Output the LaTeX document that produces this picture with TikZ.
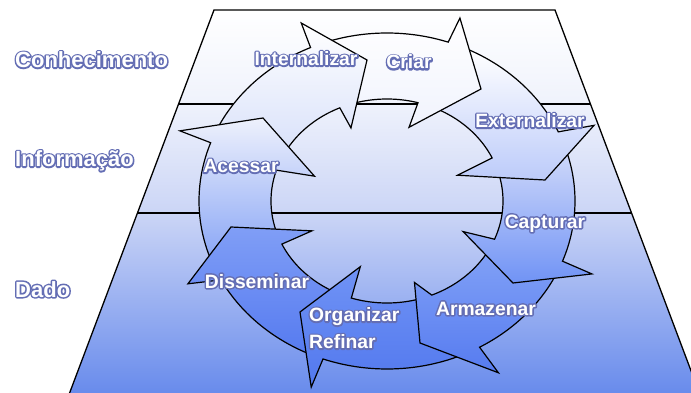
\documentclass[tikz,border=0pt]{standalone}
\usepackage{fontspec}
\setmainfont{Liberation Sans}
\usetikzlibrary{calc}
\definecolor{traphi}{RGB}{240,243,252}
\definecolor{trapmid}{RGB}{203,213,246}
\definecolor{trapbot}{RGB}{104,139,236}
\definecolor{glowc}{RGB}{100,110,180}
\definecolor{Ibot}{RGB}{218,226,250}
\definecolor{Cbot}{RGB}{240,243,253}
\definecolor{Ebot}{RGB}{188,203,250}
\definecolor{Ptop}{RGB}{205,215,250}
\definecolor{Pbot}{RGB}{112,147,245}
\definecolor{Atop}{RGB}{128,160,246}
\definecolor{Abot}{RGB}{86,123,240}
\definecolor{Otop}{RGB}{112,147,245}
\definecolor{Obot}{RGB}{82,120,238}
\definecolor{Dtop}{RGB}{128,158,246}
\definecolor{Dbot}{RGB}{86,123,240}
\definecolor{Stop}{RGB}{238,241,252}
\definecolor{Sbot}{RGB}{140,168,246}
\pgfdeclareverticalshading{trapsh}{100bp}{color(0bp)=(trapbot); color(25bp)=(trapbot); color(48.5bp)=(trapmid); color(63.3bp)=(traphi); color(75bp)=(white); color(100bp)=(white)}
\def\ecx{387}\def\ecy{201}\def\erxo{188}\def\eryo{168}\def\erxi{116}\def\eryi{102}
\newcommand\glowtext[1]{%
  \makebox[0pt][l]{\color{glowc}\special{pdf:literal direct 1 Tr 3.1 w 1 j 1 J}#1\special{pdf:literal direct 0 Tr}}%
  \color{white}#1}
\newcommand\ringfill[8]{%
  \shade[top color=#7,bottom color=#8] (#1to)
    -- plot[domain=#2:#3,samples=30] ({\ecx+\erxo*cos(\x)},{\ecy+\eryo*sin(\x)})
    -- (#1bo) -- (#1t) -- (#1bi)
    -- plot[domain=#4:#5,samples=30] ({\ecx+\erxi*cos(\x)},{\ecy+\eryi*sin(\x)})
    -- (#6t) -- cycle;}
\newcommand\ringline[5]{%
  \draw[arrowline] (#1to)
    -- plot[domain=#2:#3,samples=30] ({\ecx+\erxo*cos(\x)},{\ecy+\eryo*sin(\x)})
    -- (#1bo) -- (#1t) -- (#1bi)
    -- plot[domain=#4:#5,samples=30] ({\ecx+\erxi*cos(\x)},{\ecy+\eryi*sin(\x)});}
\newcommand\outpt[2]{\coordinate (#1) at ({\ecx+\erxo*cos(#2)},{\ecy+\eryo*sin(#2)});}
\newcommand\inpt[2]{\coordinate (#1) at ({\ecx+\erxi*cos(#2)},{\ecy+\eryi*sin(#2)});}
\begin{document}
\begin{tikzpicture}[x=1pt,y=-1pt,
  edge/.style={line width=1.3pt,black},
  arrowline/.style={line width=1.2pt,black,line join=miter},
  lbl/.style={font=\bfseries\fontsize{19.3}{22}\selectfont,inner sep=0pt,anchor=base},
  lblw/.style={font=\bfseries\fontsize{19.3}{22}\selectfont,inner sep=0pt,anchor=base west},
  side/.style={font=\bfseries\fontsize{22}{25}\selectfont,inner sep=0pt,anchor=base west}]
\useasboundingbox (0,0) rectangle (691,393);
\fill[white] (0,0) rectangle (691,393);
% trapezoid
\coordinate (TL) at (214,10); \coordinate (TR) at (555,10);
\coordinate (BL) at (69.4,393.5); \coordinate (BR) at (699.6,393.5);
\coordinate (L1) at (178.6,104); \coordinate (R1) at (590.4,104);
\coordinate (L2) at (137.5,213); \coordinate (R2) at (631.5,213);
\shade[shading=trapsh] (TL) -- (TR) -- (BR) -- (BL) -- cycle;
\draw[edge] (L1) -- (R1);
\draw[edge] (L2) -- (R2);
\draw[edge,line join=miter] (BL) -- (TL) -- (TR) -- (BR);
% tail points
\outpt{Ito}{207}   \inpt{Iti}{212}
\outpt{Cto}{253}   \inpt{Cti}{255}
\outpt{Eto}{296}   \inpt{Eti}{297.5}
\outpt{Pto}{344}   \inpt{Pti}{346.7}
\outpt{Ato}{387.4} \inpt{Ati}{391.8}
\outpt{Oto}{428.2} \inpt{Oti}{435.5}
\outpt{Dto}{475.5} \inpt{Dti}{479.6}
\outpt{Sto}{521}   \inpt{Sti}{524}
% tips
\coordinate (It) at (367,60);
\coordinate (Ct) at (481,89);
\coordinate (Et) at (545,180);
\coordinate (Pt) at (513,283);
\coordinate (At) at (420,343);
\coordinate (Ot) at (300,312);
\coordinate (Dt) at (231,227);
\coordinate (St) at (263,118);
% barbs
\coordinate (Ibo) at ($(It)!1.88!(Cto)$); \coordinate (Ibi) at ($(It)!1.60!(Cti)$);
\coordinate (Cbo) at ($(Ct)!1.82!(Eto)$); \coordinate (Cbi) at ($(Ct)!1.78!(Eti)$);
\coordinate (Ebo) at ($(Et)!2.16!(Pto)$); \coordinate (Ebi) at ($(Et)!1.94!(Pti)$);
\coordinate (Pbo) at ($(Pt)!1.93!(Ato)$); \coordinate (Pbi) at ($(Pt)!1.82!(Ati)$);
\coordinate (Abo) at ($(At)!2.13!(Oto)$); \coordinate (Abi) at ($(At)!1.40!(Oti)$);
\coordinate (Obo) at ($(Ot)!1.85!(Dto)$); \coordinate (Obi) at ($(Ot)!2.03!(Dti)$);
\coordinate (Dbo) at ($(Dt)!1.98!(Sto)$); \coordinate (Dbi) at ($(Dt)!1.82!(Sti)$);
\coordinate (Sbo) at ($(St)!1.91!(Ito)$); \coordinate (Sbi) at ($(St)!2.01!(Iti)$);
% fills
\ringfill{I}{207}{246}{246}{212}{S}{white}{Ibot}
\ringfill{C}{253}{289}{285.5}{255}{I}{white}{Cbot}
\ringfill{E}{296}{335.7}{335}{297.5}{C}{white}{Ebot}
\ringfill{P}{344}{381}{382}{346.7}{E}{Ptop}{Pbot}
\ringfill{A}{387.4}{420.5}{427.3}{391.8}{P}{Atop}{Abot}
\ringfill{O}{428.2}{469.9}{467.9}{435.5}{A}{Otop}{Obot}
\ringfill{D}{475.5}{512}{515}{479.6}{O}{Dtop}{Dbot}
\ringfill{S}{521}{560.3}{557.6}{524}{D}{Stop}{Sbot}
% outlines
\ringline{I}{207}{246}{246}{212}
\ringline{C}{253}{289}{285.5}{255}
\ringline{E}{296}{335.7}{335}{297.5}
\ringline{P}{344}{381}{382}{346.7}
\ringline{A}{387.4}{420.5}{427.3}{391.8}
\ringline{O}{428.2}{469.9}{467.9}{435.5}
\ringline{D}{475.5}{512}{515}{479.6}
\ringline{S}{521}{560.3}{557.6}{524}
% labels
\node[side] (conh) at (15,67.5) {\glowtext{Conhecimento}};
\node[side] (info) at (15,166.5) {\glowtext{Informação}};
\node[side] (dado) at (15,297) {\glowtext{Dado}};
\node[lbl] (lint) at (306,65.5) {\glowtext{Internalizar}};
\node[lbl] (lcri) at (409,69) {\glowtext{Criar}};
\node[lbl] (lext) at (530,127.5) {\glowtext{Externalizar}};
\node[lbl] (lcap) at (545,228) {\glowtext{Capturar}};
\node[lbl] (larm) at (486,315) {\glowtext{Armazenar}};
\node[lblw] (lorg) at (309,321.5) {\glowtext{Organizar}};
\node[lblw] (lref) at (309,348.5) {\glowtext{Refinar}};
\node[lbl] (ldis) at (257,288) {\glowtext{Disseminar}};
\node[lbl] (lace) at (241,172.5) {\glowtext{Acessar}};
\end{tikzpicture}
\end{document}
